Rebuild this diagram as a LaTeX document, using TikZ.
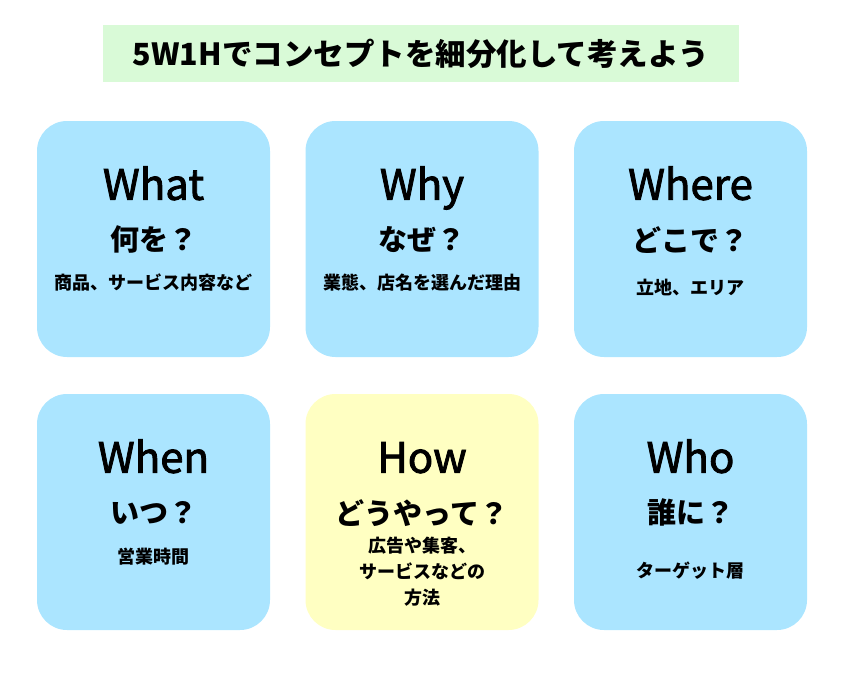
\documentclass[tikz,border=0pt]{standalone}
\usepackage{fontspec}
\setmainfont{Noto Sans CJK JP}
\newfontfamily\wordfont[FakeBold=2]{Noto Sans CJK JP}
\usetikzlibrary{positioning}
\definecolor{cardblue}{HTML}{ABE5FF}
\definecolor{cardyellow}{HTML}{FFFFC2}
\definecolor{headgreen}{HTML}{D9FAD7}
\tikzstyle{headbox} = [rectangle, fill=headgreen, minimum width=636pt, minimum height=57pt, font=\fontsize{30.5}{34}\selectfont\bfseries]
\tikzstyle{card} = [rectangle, rounded corners=30pt, minimum width=233pt, minimum height=236pt, fill=cardblue]
\tikzstyle{word} = [inner sep=0pt, anchor=base, font=\wordfont\fontsize{42}{46}\selectfont]
\tikzstyle{ask} = [inner sep=0pt, font=\fontsize{29}{32}\selectfont\bfseries]
\tikzstyle{note} = [inner sep=0pt, align=center, font=\fontsize{18}{26}\selectfont\bfseries]

\begin{document}
\begin{tikzpicture}[x=1pt, y=-1pt]
\useasboundingbox (0,0) rectangle (856,675);
\node (head) [headbox] at (421,53.5) {5W1Hでコンセプトを細分化して考えよう};
% 上の段
\node (what) [card] at (153.5,239) {};
\node (where) [card] at (690.5,239) {};
\node (why) [card] at (422,239) {};
% 下の段
\node (when) [card] at (153.5,512) {};
\node (how) [card, fill=cardyellow] at (422,512) {};
\node (who) [card] at (690.5,512) {};

\node (whatword) [word, yshift=-79pt] at (what.north) {What};
\node (whatask) [ask, yshift=-119pt] at (what.north) {何を？};
\node (whatnote) [note, yshift=-162pt] at (what.north) {商品、サービス内容など};

\node (whyword) [word, yshift=-79pt] at (why.north) {Why};
\node (whyask) [ask, yshift=-119pt] at (why.north) {なぜ？};
\node (whynote) [note, yshift=-162pt] at (why.north) {業態、店名を選んだ理由};

\node (whereword) [word, yshift=-79pt] at (where.north) {Where};
\node (whereask) [ask, yshift=-119pt] at (where.north) {どこで？};
\node (wherenote) [note, yshift=-167pt] at (where.north) {立地、エリア};

\node (whenword) [word, yshift=-79pt] at (when.north) {When};
\node (whenask) [ask, yshift=-119pt] at (when.north) {いつ？};
\node (whennote) [note, yshift=-163pt] at (when.north) {営業時間};

\node (howword) [word, yshift=-79pt] at (how.north) {How};
\node (howask) [ask, yshift=-119pt] at (how.north) {どうやって？};
\node (hownote) [note, yshift=-178pt] at (how.north) {広告や集客、\\サービスなどの\\方法};

\node (whoword) [word, yshift=-79pt] at (who.north) {Who};
\node (whoask) [ask, yshift=-119pt] at (who.north) {誰に？};
\node (whonote) [note, yshift=-177pt] at (who.north) {ターゲット層};
\end{tikzpicture}
\end{document}
